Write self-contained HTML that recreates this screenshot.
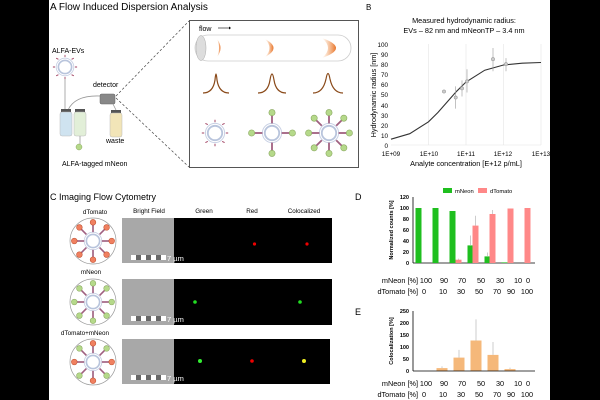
<!DOCTYPE html>
<html><head><meta charset="utf-8"><style>
body{margin:0;background:#000;}
svg{display:block;font-family:"Liberation Sans",Arial,sans-serif;}
</style></head><body>
<svg width="600" height="400" viewBox="0 0 600 400" xmlns="http://www.w3.org/2000/svg">
<defs>
<linearGradient id="og" x1="0" x2="1"><stop offset="0" stop-color="#f4a460" stop-opacity="0"/><stop offset="1" stop-color="#e8742a"/></linearGradient>
<g id="ev"><circle r="6" fill="none" stroke="#b8c4dc" stroke-width="1.5"/><circle r="8" fill="none" stroke="#c8d0e4" stroke-width="0.8"/></g>
<g id="gp"><line x1="0" y1="0" x2="0" y2="-7" stroke="#a06080" stroke-width="1.5"/><circle cx="0" cy="-9" r="2.6" fill="#b5d98a" stroke="#8aa860" stroke-width="0.5"/></g>
<g id="rp"><line x1="0" y1="0" x2="0" y2="-7" stroke="#a06080" stroke-width="1.5"/><circle cx="0" cy="-9" r="2.6" fill="#f08060" stroke="#c05030" stroke-width="0.5"/></g>
</defs>
<rect x="49" y="0" width="501" height="400" fill="#fff"/>

<!-- Panel A -->
<text x="50" y="10" font-size="10">A Flow Induced Dispersion Analysis</text>
<text x="52" y="53" font-size="7">ALFA-EVs</text>
<g transform="translate(65,67) scale(1.1)"><use href="#ev"/>
<g fill="none" stroke="#a04060" stroke-width="0.8"><path d="M-8 -8 l2 1 M8 -8 l-2 1 M-8 8 l2 -1 M8 8 l-2 -1 M0 -11 v2 M0 11 v-2 M-11 0 h2 M11 0 h-2"/></g></g>
<line x1="65" y1="79" x2="65" y2="110" stroke="#999" stroke-width="0.8"/>
<path d="M68 110 Q75 95 100 96" fill="none" stroke="#999" stroke-width="0.8"/>
<rect x="61" y="109" width="10" height="3" fill="#555"/><rect x="60" y="112" width="12" height="24" rx="2" fill="#cfe3f0" stroke="#bbb" stroke-width="0.5"/>
<rect x="75" y="109" width="10" height="3" fill="#555"/><rect x="74" y="112" width="12" height="24" rx="2" fill="#e2efd8" stroke="#bbb" stroke-width="0.5"/>
<rect x="111" y="110" width="10" height="3" fill="#555"/><rect x="110" y="113" width="12" height="24" rx="2" fill="#f2e5b8" stroke="#bbb" stroke-width="0.5"/>
<line x1="80" y1="136" x2="80" y2="145" stroke="#999" stroke-width="0.8"/>
<circle cx="79" cy="147" r="3" fill="#b5d98a" stroke="#8aa860" stroke-width="0.5"/>
<rect x="100" y="94" width="15" height="10" rx="1.5" fill="#888" stroke="#666" stroke-width="0.5"/>
<line x1="113" y1="104" x2="116" y2="110" stroke="#999" stroke-width="0.8"/>
<text x="93" y="87" font-size="7">detector</text>
<text x="106" y="143" font-size="7">waste</text>
<text x="62" y="166" font-size="7">ALFA-tagged mNeon</text>
<g stroke="#444" stroke-width="0.7" stroke-dasharray="2.5,2"><line x1="116" y1="96" x2="189" y2="21"/><line x1="116" y1="98" x2="189" y2="167"/></g>
<rect x="189.5" y="20.5" width="169" height="147" fill="#fff" stroke="#555" stroke-width="1"/>
<text x="199" y="31" font-size="7">flow</text><line x1="218" y1="28" x2="229" y2="28" stroke="#000" stroke-width="0.6"/><path d="M229 26.5 L231 28 L229 29.5z"/>
<rect x="195" y="35" width="156" height="26" rx="13" fill="#fff" stroke="#ccc" stroke-width="0.8"/>
<ellipse cx="201" cy="48" rx="5" ry="12.5" fill="#ddd" stroke="#aaa" stroke-width="0.5"/>
<path d="M217 39 Q224 48 217 57 Q221 48 217 39z" fill="url(#og)"/>
<path d="M265 39 Q282 48 265 57 Q274 48 265 39z" fill="url(#og)"/>
<path d="M322 38 Q350 48 322 58 Q334 48 322 38z" fill="url(#og)"/>
<g fill="none" stroke="#8a4a1a" stroke-width="1.2">
<path d="M203 93 Q213 93 215 80 Q216 68 217 80 Q219 93 229 93"/>
<path d="M258 93 Q268 93 270 80 Q272 68 274 80 Q276 93 286 93"/>
<path d="M313 93 Q323 93 326 79 Q328 68 330 79 Q333 93 343 93"/>
</g>
<g transform="translate(215,133) scale(1.2)"><use href="#ev"/><g fill="none" stroke="#a04060" stroke-width="0.8"><path d="M-8 -8 l2 1 M8 -8 l-2 1 M-8 8 l2 -1 M8 8 l-2 -1 M0 -11 v2 M0 11 v-2 M-11 0 h2 M11 0 h-2"/></g></g>
<g transform="translate(272,133) scale(1.2)"><use href="#ev"/><use href="#gp" transform="translate(0,-8)"/><use href="#gp" transform="translate(0,8) rotate(180)"/><use href="#gp" transform="translate(-8,0) rotate(-90)"/><use href="#gp" transform="translate(8,0) rotate(90)"/></g>
<g transform="translate(329,133) scale(1.2)"><use href="#ev"/><use href="#gp" transform="translate(0,-8)"/><use href="#gp" transform="translate(0,8) rotate(180)"/><use href="#gp" transform="translate(-8,0) rotate(-90)"/><use href="#gp" transform="translate(8,0) rotate(90)"/><use href="#gp" transform="translate(6,-6) rotate(45)"/><use href="#gp" transform="translate(-6,-6) rotate(-45)"/><use href="#gp" transform="translate(6,6) rotate(135)"/><use href="#gp" transform="translate(-6,6) rotate(-135)"/></g>

<!-- Panel B -->
<text x="366" y="10" font-size="8">B</text>
<text x="464" y="23" font-size="7.3" text-anchor="middle">Measured hydrodynamic radius:</text>
<text x="464" y="33" font-size="7.3" text-anchor="middle">EVs – 82 nm and mNeonTP – 3.4 nm</text>
<g stroke="#e4e4e4" stroke-width="0.6"><line x1="428.5" y1="44" x2="428.5" y2="145"/><line x1="466" y1="44" x2="466" y2="145"/><line x1="503.5" y1="44" x2="503.5" y2="145"/><line x1="541" y1="44" x2="541" y2="145"/><line x1="391" y1="145" x2="541" y2="145"/></g>
<g font-size="6.3" text-anchor="end"><text x="388" y="47">100</text><text x="388" y="57">90</text><text x="388" y="67">80</text><text x="388" y="77">70</text><text x="388" y="87">60</text><text x="388" y="97">50</text><text x="388" y="108">40</text><text x="388" y="118">30</text><text x="388" y="128">20</text><text x="388" y="138">10</text><text x="388" y="148">0</text></g>
<g font-size="6.3" text-anchor="middle"><text x="391" y="156">1E+09</text><text x="429" y="156">1E+10</text><text x="466" y="156">1E+11</text><text x="503" y="156">1E+12</text><text x="541" y="156">1E+13</text></g>
<text x="466" y="166" font-size="7.3" text-anchor="middle">Analyte concentration [E+12 p/mL]</text>
<text transform="translate(376,95) rotate(-90)" font-size="7.3" text-anchor="middle">Hydrodynamic radius [nm]</text>
<polyline fill="none" stroke="#333" stroke-width="1.1" points="391,139.2 409.75,133.7 428.5,121.8 437.9,112.5 447.25,101.9 456.6,91.3 466,82 484.75,70.2 503.5,65 522.25,63.2 541,62.5"/>
<g stroke="#999" stroke-width="0.6" fill="#ccc"><line x1="455.7" y1="108.6" x2="455.7" y2="86.4"/><line x1="462" y1="96.5" x2="462" y2="80.4"/><line x1="467" y1="92.5" x2="467" y2="69.3"/><line x1="493" y1="71.3" x2="493" y2="48"/><line x1="506" y1="71.3" x2="506" y2="58.1"/>
<circle cx="444" cy="91.5" r="1.6"/><circle cx="455.7" cy="97.5" r="1.6"/><circle cx="462" cy="88.4" r="1.6"/><circle cx="467" cy="81.4" r="1.6"/><circle cx="493" cy="59.2" r="1.6"/><circle cx="506" cy="64.2" r="1.6"/></g>

<!-- Panel C -->
<text x="50" y="200" font-size="9">C Imaging Flow Cytometry</text>
<g font-size="6.3" text-anchor="middle"><text x="95" y="214">dTomato</text><text x="91" y="274">mNeon</text><text x="85" y="335">dTomato+mNeon</text>
<text x="149" y="213">Bright Field</text><text x="204" y="213">Green</text><text x="252" y="213">Red</text><text x="304" y="213">Colocalized</text></g>
<g>
<rect x="122" y="218" width="210" height="45" fill="#000"/><rect x="122" y="218" width="52" height="45" fill="#a8a8a8"/>
<rect x="122" y="279" width="210" height="46" fill="#000"/><rect x="122" y="279" width="52" height="46" fill="#a8a8a8"/>
<rect x="122" y="339" width="208" height="45" fill="#000"/><rect x="122" y="339" width="52" height="45" fill="#a8a8a8"/>
</g>
<g fill="#fff">
<rect x="131" y="255" width="35" height="5" fill="#666"/><rect x="131" y="255" width="5" height="5"/><rect x="141" y="255" width="5" height="5"/><rect x="151" y="255" width="5" height="5"/><rect x="161" y="255" width="5" height="5"/>
<rect x="131" y="316" width="35" height="5" fill="#666"/><rect x="131" y="316" width="5" height="5"/><rect x="141" y="316" width="5" height="5"/><rect x="151" y="316" width="5" height="5"/><rect x="161" y="316" width="5" height="5"/>
<rect x="131" y="375" width="35" height="5" fill="#666"/><rect x="131" y="375" width="5" height="5"/><rect x="141" y="375" width="5" height="5"/><rect x="151" y="375" width="5" height="5"/><rect x="161" y="375" width="5" height="5"/>
<g font-size="7.5"><text x="167" y="261">7 µm</text><text x="167" y="322">7 µm</text><text x="167" y="381">7 µm</text></g>
</g>
<circle cx="254.5" cy="244" r="1.6" fill="#e00"/><circle cx="307" cy="244" r="1.6" fill="#e00"/>
<circle cx="195" cy="302" r="1.8" fill="#2d2"/><circle cx="300" cy="302" r="1.8" fill="#2d2"/>
<circle cx="200" cy="361" r="2" fill="#3e3"/><circle cx="252" cy="361" r="1.8" fill="#e00"/><circle cx="304" cy="361" r="2" fill="#ee2"/>
<g stroke="#999" stroke-width="0.7" fill="#fff"><circle cx="93" cy="241" r="23"/><circle cx="93" cy="302" r="23"/><circle cx="93" cy="362" r="23"/></g>
<g transform="translate(93,241) scale(1.1)"><use href="#ev"/><use href="#rp" transform="translate(0,-8)"/><use href="#rp" transform="translate(0,8) rotate(180)"/><use href="#rp" transform="translate(-8,0) rotate(-90)"/><use href="#rp" transform="translate(8,0) rotate(90)"/><use href="#rp" transform="translate(6,-6) rotate(45)"/><use href="#rp" transform="translate(-6,-6) rotate(-45)"/><use href="#rp" transform="translate(6,6) rotate(135)"/><use href="#rp" transform="translate(-6,6) rotate(-135)"/></g>
<g transform="translate(93,302) scale(1.1)"><use href="#ev"/><use href="#gp" transform="translate(0,-8)"/><use href="#gp" transform="translate(0,8) rotate(180)"/><use href="#gp" transform="translate(-8,0) rotate(-90)"/><use href="#gp" transform="translate(8,0) rotate(90)"/><use href="#gp" transform="translate(6,-6) rotate(45)"/><use href="#gp" transform="translate(-6,-6) rotate(-45)"/><use href="#gp" transform="translate(6,6) rotate(135)"/><use href="#gp" transform="translate(-6,6) rotate(-135)"/></g>
<g transform="translate(93,362) scale(1.1)"><use href="#ev"/><use href="#rp" transform="translate(0,-8)"/><use href="#rp" transform="translate(0,8) rotate(180)"/><use href="#rp" transform="translate(-8,0) rotate(-90)"/><use href="#rp" transform="translate(8,0) rotate(90)"/><use href="#gp" transform="translate(6,-6) rotate(45)"/><use href="#gp" transform="translate(-6,-6) rotate(-45)"/><use href="#gp" transform="translate(6,6) rotate(135)"/><use href="#gp" transform="translate(-6,6) rotate(-135)"/></g>

<!-- Panel D -->
<text x="355" y="200" font-size="9">D</text>
<rect x="443" y="188" width="9" height="5" fill="#1fbf1f"/><text x="455" y="193" font-size="5.8">mNeon</text>
<rect x="478" y="188" width="9" height="5" fill="#f88"/><text x="490" y="193" font-size="5.8">dTomato</text>
<g font-size="5.5" font-weight="bold" text-anchor="end"><text x="409" y="199">120</text><text x="409" y="210">100</text><text x="409" y="221">80</text><text x="409" y="232">60</text><text x="409" y="243">40</text><text x="409" y="254">20</text><text x="409" y="265">0</text></g>
<text transform="translate(393,230) rotate(-90)" font-size="5.5" font-weight="bold" text-anchor="middle">Normalized counts [%]</text>
<g stroke="#000" stroke-width="0.8"><line x1="413" y1="197" x2="413" y2="263"/><line x1="413" y1="263" x2="535" y2="263"/></g>
<g fill="#1fbf1f"><rect x="415.5" y="208" width="6" height="55"/><rect x="432.5" y="208" width="6" height="55"/><rect x="449.5" y="211" width="6" height="52"/><rect x="467.5" y="245.4" width="6" height="17.6"/><rect x="484.5" y="256.4" width="6" height="6.6"/><rect x="501.5" y="262.4" width="6" height="0.6"/></g>
<g fill="#f88"><rect x="455.5" y="259.7" width="6" height="3.3"/><rect x="472.5" y="225.6" width="6" height="37.4"/><rect x="489.5" y="214" width="6" height="49"/><rect x="507.5" y="208.5" width="6" height="54.5"/><rect x="524.5" y="208" width="6" height="55"/></g>
<g stroke="#aaa" stroke-width="0.6"><line x1="470.5" y1="245" x2="470.5" y2="235.5"/><line x1="487.5" y1="256" x2="487.5" y2="252.5"/><line x1="475.5" y1="225.6" x2="475.5" y2="215.7"/><line x1="492.5" y1="214" x2="492.5" y2="210"/><line x1="458.5" y1="259.7" x2="458.5" y2="258.6"/></g>
<g font-size="7.3"><text x="418" y="283" text-anchor="end">mNeon [%]</text><text x="418" y="294" text-anchor="end">dTomato [%]</text>
<g text-anchor="middle"><text x="426" y="283">100</text><text x="444" y="283">90</text><text x="462" y="283">70</text><text x="481" y="283">50</text><text x="500" y="283">30</text><text x="518" y="283">10</text><text x="528" y="283">0</text>
<text x="424" y="294">0</text><text x="443" y="294">10</text><text x="461" y="294">30</text><text x="479" y="294">50</text><text x="497" y="294">70</text><text x="511" y="294">90</text><text x="527" y="294">100</text></g></g>

<!-- Panel E -->
<text x="355" y="315" font-size="9">E</text>
<g font-size="5.5" font-weight="bold" text-anchor="end"><text x="409" y="313">250</text><text x="409" y="325">200</text><text x="409" y="337">150</text><text x="409" y="349">100</text><text x="409" y="361">50</text><text x="409" y="373">0</text></g>
<text transform="translate(393,341) rotate(-90)" font-size="5.5" font-weight="bold" text-anchor="middle">Colocalization [%]</text>
<g stroke="#aaa" stroke-width="0.6"><line x1="442" y1="368" x2="442" y2="366.4"/><line x1="459" y1="357.6" x2="459" y2="349.9"/><line x1="476" y1="340.5" x2="476" y2="319.4"/><line x1="493" y1="354.9" x2="493" y2="342"/><line x1="510" y1="369" x2="510" y2="367.6"/></g>
<g fill="#f5b87a"><rect x="436.5" y="368.1" width="11" height="2.9"/><rect x="453.5" y="357.6" width="11" height="13.4"/><rect x="470.5" y="340.5" width="11" height="30.5"/><rect x="487.5" y="354.9" width="11" height="16.1"/><rect x="504.5" y="369.1" width="11" height="1.9"/></g>
<g stroke="#000" stroke-width="0.8"><line x1="413" y1="311" x2="413" y2="371"/><line x1="413" y1="371" x2="535" y2="371"/></g>
<g font-size="7.3"><text x="418" y="386" text-anchor="end">mNeon [%]</text><text x="418" y="397" text-anchor="end">dTomato [%]</text>
<g text-anchor="middle"><text x="426" y="386">100</text><text x="444" y="386">90</text><text x="462" y="386">70</text><text x="481" y="386">50</text><text x="500" y="386">30</text><text x="518" y="386">10</text><text x="528" y="386">0</text>
<text x="424" y="397">0</text><text x="443" y="397">10</text><text x="461" y="397">30</text><text x="479" y="397">50</text><text x="497" y="397">70</text><text x="511" y="397">90</text><text x="527" y="397">100</text></g></g>
</svg>
</body></html>
